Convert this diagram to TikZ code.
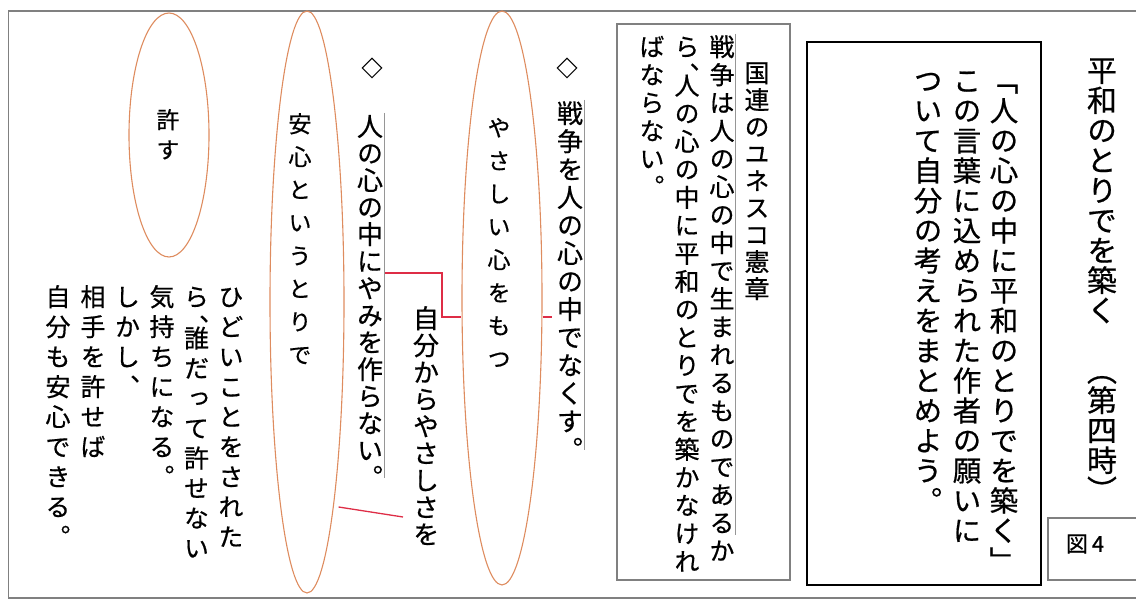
\documentclass[tikz,border=0pt]{standalone}
\usepackage{fontspec}
\usetikzlibrary{shapes.geometric,calc}
\newfontfamily\jp[RawFeature=+vert,FakeBold=0.6]{Noto Sans CJK JP}
\newfontfamily\jph[FakeBold=0.6]{Noto Sans CJK JP}
\definecolor{framec}{RGB}{128,128,128}
\definecolor{ovalc}{RGB}{222,140,95}
\definecolor{redc}{RGB}{222,45,70}
\definecolor{sidec}{RGB}{150,150,150}
% vertical text: #1 pitch, #2 characters
\makeatletter
\def\vtext#1#2{\vtop{\baselineskip=#1\lineskiplimit=-\maxdimen\lineskip=0pt\relax\vt@aux#2\relax}}
\def\vt@aux#1{\ifx#1\relax\else\vt@char{#1}\expandafter\vt@aux\fi}
\def\vt@char#1{\hbox to 1em{\hss\vrule height .88em depth .12em width 0pt\relax#1\hss}%
  \ifx#1、\vskip-.62\baselineskip\fi}
\makeatother
\tikzset{
  framebox/.style={draw=framec,line width=1.6pt},
  mainbox/.style={draw=black,line width=2.2pt},
  oval/.style={draw=ovalc,line width=1.1pt,ellipse,inner sep=0pt},
  redline/.style={draw=redc,line width=1.3pt},
  sideline/.style={draw=sidec,line width=.8pt},
  vt/.style={inner sep=0pt,anchor=north,font=\jp},
}
\begin{document}
\begin{tikzpicture}[x=1pt,y=-1pt]
\useasboundingbox (0,0) rectangle (1136,601);
% outer frame
\draw[framebox] (8.5,11) rectangle (1150,598);
% title
\node[vt,font=\jp\fontsize{30}{30}\selectfont] (title) at (1102,55) {\vtext{30pt}{平和のとりでを築く　（第四時）}};
% main box
\draw[mainbox] (807,42) rectangle (1041,585);
\node[vt,font=\jp\fontsize{28.5}{28.5}\selectfont] (m1) at (1004,66) {\vtext{30pt}{「人の心の中に平和のとりでを築く」}};
\node[vt,font=\jp\fontsize{28.5}{28.5}\selectfont] (m2) at (967,66) {\vtext{30pt}{この言葉に込められた作者の願いに}};
\node[vt,font=\jp\fontsize{28.5}{28.5}\selectfont] (m3) at (928,66) {\vtext{30pt}{ついて自分の考えをまとめよう。}};
% figure label
\draw[framebox,line width=1.2pt] (1048,518) rectangle (1150,580);
\node[font=\jph\fontsize{22}{22}\selectfont,inner sep=0pt] (fig) at (1085,544) {図\hspace{4pt}4};
% UN charter box
\draw[framebox] (617,24) rectangle (790,580);
\node[vt,font=\jp\fontsize{25}{25}\selectfont] (u1) at (757,60) {\vtext{27pt}{国連のユネスコ憲章}};
\node[vt,font=\jp\fontsize{25}{25}\selectfont] (u2) at (722,34) {\vtext{28pt}{戦争は人の心の中で生まれるものであるか}};
\node[vt,font=\jp\fontsize{25}{25}\selectfont] (u3) at (687,34) {\vtext{28pt}{ら、人の心の中に平和のとりでを築かなけれ}};
\node[vt,font=\jp\fontsize{25}{25}\selectfont] (u4) at (652,34) {\vtext{28pt}{ばならない。}};
\draw[sideline] ($(u2.north)+(13,0)$) -- ($(u2.south)+(13,-28)$);
% diamonds and statements
\node[font=\jp\fontsize{21}{21}\selectfont,inner sep=0pt] (d1) at (567,68) {◇};
\node[vt,font=\jp\fontsize{26}{26}\selectfont] (s1) at (570,100) {\vtext{28pt}{戦争を人の心の中でなくす。}};
\draw[sideline] ($(s1.north)+(14,0)$) -- ($(s1.south)+(14,-12)$);
\node[font=\jp\fontsize{21}{21}\selectfont,inner sep=0pt] (d2) at (372,68) {◇};
\node[vt,font=\jp\fontsize{26}{26}\selectfont] (s2) at (370,113) {\vtext{27pt}{人の心の中にやみを作らない。}};
\draw[sideline] ($(s2.north)+(14,0)$) -- ($(s2.south)+(14,-12)$);
\node[vt,font=\jp\fontsize{26}{26}\selectfont] (s3) at (426,305) {\vtext{27pt}{自分からやさしさを}};
% ovals
\node[oval,minimum width=80pt,minimum height=574pt] (e1) at (502,298) {};
\node[vt,font=\jp\fontsize{23}{23}\selectfont] (e1t) at (499,116) {\vtext{33pt}{やさしい心をもつ}};
\node[oval,minimum width=74pt,minimum height=582pt] (e2) at (307,302) {};
\node[vt,font=\jp\fontsize{23}{23}\selectfont] (e2t) at (300,112) {\vtext{33pt}{安心というとりで}};
\node[oval,minimum width=80pt,minimum height=244pt] (e3) at (169,135) {};
\node[vt,font=\jp\fontsize{23}{23}\selectfont] (e3t) at (168,108) {\vtext{30pt}{許す}};
% bottom-left text
\node[vt,font=\jp\fontsize{25}{25}\selectfont] (b1) at (231,284) {\vtext{30pt}{ひどいことをされた}};
\node[vt,font=\jp\fontsize{25}{25}\selectfont] (b2) at (196.5,284) {\vtext{30pt}{ら、誰だって許せない}};
\node[vt,font=\jp\fontsize{25}{25}\selectfont] (b3) at (162,284) {\vtext{30pt}{気持ちになる。}};
\node[vt,font=\jp\fontsize{25}{25}\selectfont] (b4) at (127.5,284) {\vtext{30pt}{しかし、}};
\node[vt,font=\jp\fontsize{25}{25}\selectfont] (b5) at (93,284) {\vtext{30pt}{相手を許せば}};
\node[vt,font=\jp\fontsize{25}{25}\selectfont] (b6) at (58,284) {\vtext{30pt}{自分も安心できる。}};
% connectors
\coordinate (k1) at ($(s2.north)+(15,160)$);
\draw[redline] (k1) -- ++(57,0) |- ($(e1.west)+(0,19)$);
\draw[redline] ($(e1.east)+(0,19)$) -- ($(s1.north)+(-18,217)$);
\draw[redline] ($(e2.east)+(-6,205)$) -- ($(s3.north)+(-23,212)$);
\end{tikzpicture}
\end{document}
